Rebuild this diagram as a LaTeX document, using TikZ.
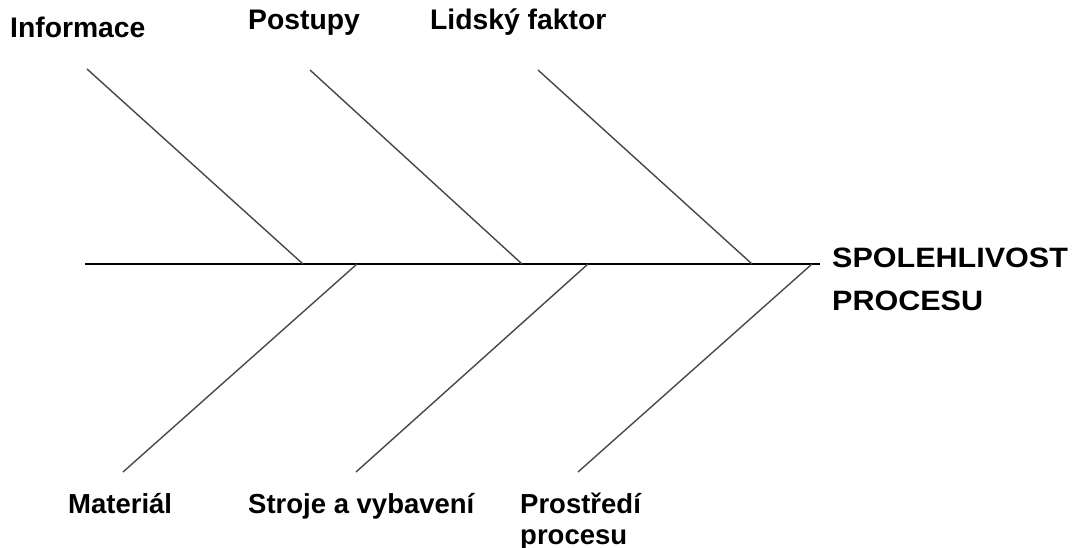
\documentclass[tikz,border=0pt]{standalone}
\usepackage{fontspec}
\setmainfont{Liberation Sans}
\begin{document}
\begin{tikzpicture}[x=1pt,y=-1pt,
  cause/.style={font=\bfseries\fontsize{28.3}{34}\selectfont, inner sep=0pt, anchor=base west},
  effect/.style={font=\bfseries\fontsize{28}{34}\selectfont, inner sep=0pt, anchor=base west},
  spine/.style={line width=1.6pt, black},
  bone/.style={line width=1.4pt, black!72}]
\useasboundingbox (0,0) rectangle (1085,548);

% main spine
\coordinate (tail) at (85,264);
\coordinate (head) at (820,264);
\draw[spine] (tail) -- (head);

% upper bones
\coordinate (infoA) at (87,69);   \coordinate (infoB) at (303,264);
\coordinate (postA) at (310,70);  \coordinate (postB) at (522,264);
\coordinate (lidA)  at (538,70);  \coordinate (lidB)  at (752,264);
\draw[bone] (infoA) -- (infoB);
\draw[bone] (postA) -- (postB);
\draw[bone] (lidA) -- (lidB);

% lower bones
\coordinate (matA) at (357,264);  \coordinate (matB) at (123,472);
\coordinate (strA) at (588,264);  \coordinate (strB) at (356,472);
\coordinate (proA) at (812,264);  \coordinate (proB) at (578,472);
\draw[bone] (matA) -- (matB);
\draw[bone] (strA) -- (strB);
\draw[bone] (proA) -- (proB);

% cause labels
\node[cause] (informace) at (10,38) {Informace};
\node[cause] (postupy) at (248,30) {Postupy};
\node[cause] (lidsky) at (430,30) {Lidský faktor};
\node[cause, font=\bfseries\fontsize{27.5}{33}\selectfont] (material) at (68,513) {Materiál};
\node[cause, font=\bfseries\fontsize{27.5}{33}\selectfont] (stroje) at (248,513) {Stroje a vybavení};
\node[cause, font=\bfseries\fontsize{27.5}{33}\selectfont] (prostredi) at (520,513) {Prostředí};
\node[cause, font=\bfseries\fontsize{27.5}{33}\selectfont] (procesu2) at (520,544) {procesu};

% effect label
\node[effect] (spol) at (832,268) {\scalebox{1.09}[1]{SPOLEHLIVOST}};
\node[effect] (proc) at (832,310) {\scalebox{1.09}[1]{PROCESU}};
\end{tikzpicture}
\end{document}
